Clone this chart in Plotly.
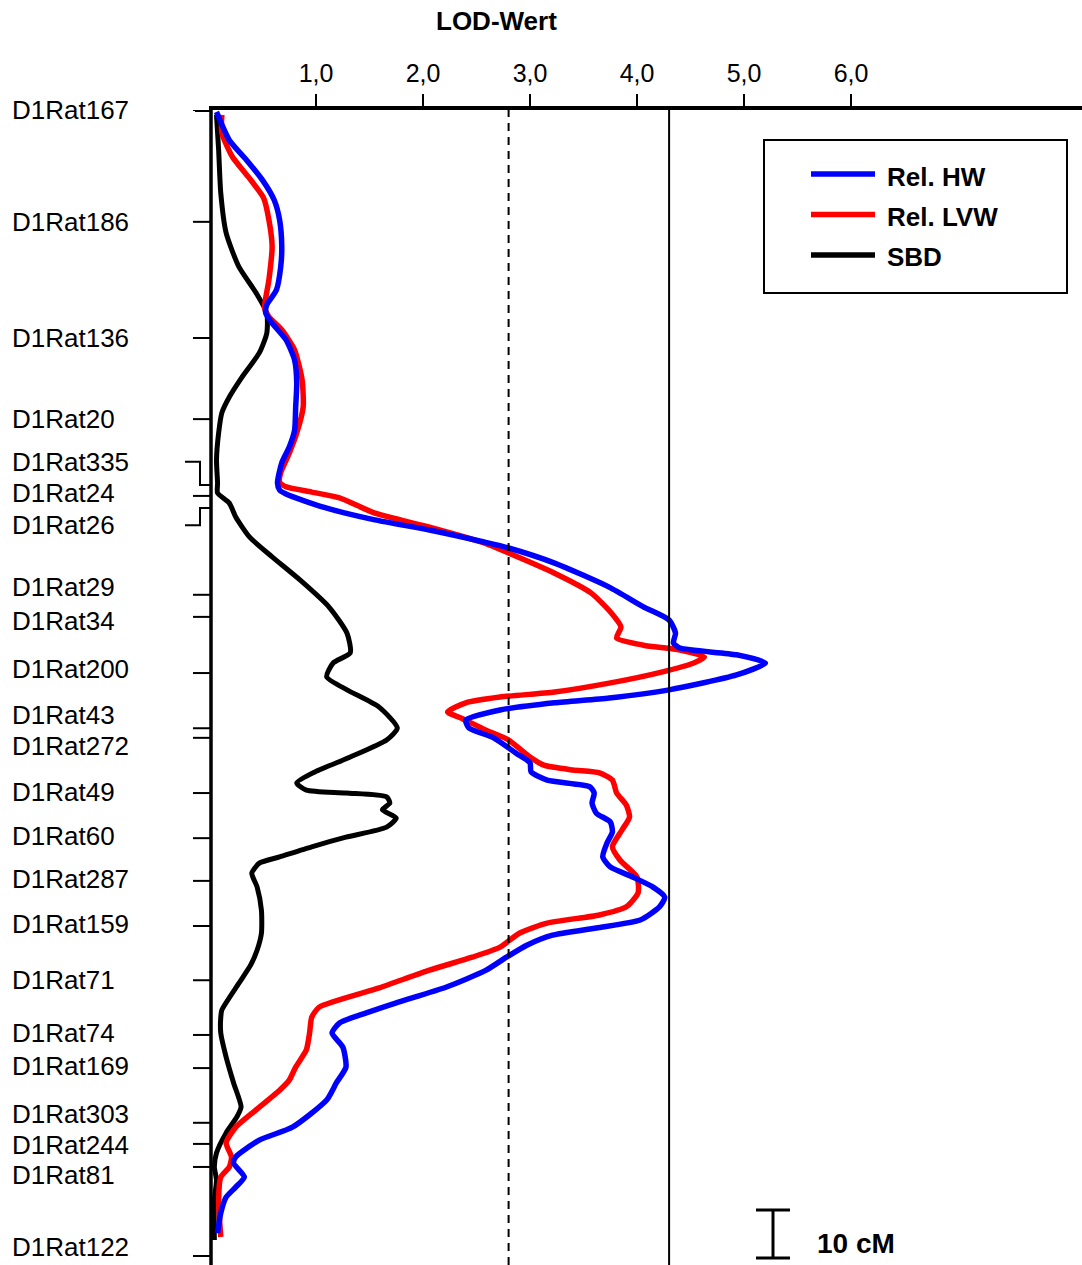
import plotly.graph_objects as go

# ---------------- data ----------------
markers = ["D1Rat167", "D1Rat186", "D1Rat136", "D1Rat20", "D1Rat335", "D1Rat24", "D1Rat26",
           "D1Rat29", "D1Rat34", "D1Rat200", "D1Rat43", "D1Rat272", "D1Rat49", "D1Rat60",
           "D1Rat287", "D1Rat159", "D1Rat71", "D1Rat74", "D1Rat169", "D1Rat303", "D1Rat244",
           "D1Rat81", "D1Rat122"]
marker_cm = [0.0, 23.3, 47.5, 64.4, 78.1, 80.4, 82.9, 101.0, 105.6, 117.3, 128.8, 130.8,
             142.3, 151.7, 160.6, 170.0, 181.3, 192.7, 199.6, 211.0, 215.4, 220.2, 238.75]
label_cm = [0.0, 23.3, 47.5, 64.4, 73.3, 79.8, 86.5, 99.4, 106.5, 116.5, 126.0, 132.5,
            142.1, 151.25, 160.2, 169.6, 181.25, 192.3, 199.2, 209.2, 215.6, 221.9, 236.9]
bent_markers = ["D1Rat335", "D1Rat26"]

lod_ticks = [1, 2, 3, 4, 5, 6]
lod_tick_text = ["1,0", "2,0", "3,0", "4,0", "5,0", "6,0"]
thresholds = [2.8, 4.3]          # dashed, solid
scale_bar_cm = 10

hw_lod = [0.07, 0.19, 0.35, 0.50, 0.61, 0.66, 0.68, 0.67, 0.63, 0.54, 0.53, 0.59, 0.72, 0.80,
          0.82, 0.81, 0.80, 0.75, 0.68, 0.64, 0.66, 0.72, 1.06, 1.55, 2.06, 2.57, 2.80, 3.23,
          3.74, 4.06, 4.30, 4.36, 4.34, 4.40, 4.93, 5.20, 4.93, 4.30, 3.74, 3.23, 2.72, 2.40,
          2.43, 2.66, 2.87, 3.00, 3.01, 3.16, 3.56, 3.60, 3.58, 3.62, 3.75, 3.77, 3.72, 3.68,
          3.75, 3.96, 4.15, 4.26, 4.21, 4.03, 3.62, 3.21, 2.97, 2.78, 2.59, 2.22, 1.75, 1.47,
          1.22, 1.15, 1.25, 1.28, 1.19, 1.10, 0.78, 0.47, 0.25, 0.23, 0.33, 0.25, 0.16, 0.11,
          0.08]
hw_cm = [0.4, 6.3, 10.4, 14.6, 18.8, 22.9, 28.5, 32.7, 37.5, 40.6, 42.3, 44.4, 47.9, 52.1,
         56.9, 61.9, 66.7, 70.2, 73.5, 77.7, 79.2, 80.0, 82.7, 85.4, 87.5, 90.0, 91.25, 94.4,
         99.4, 103.5, 106.25, 109.0, 111.0, 112.1, 113.5, 115.2, 117.7, 120.8, 122.5, 123.5, 125.0, 127.1,
         128.75, 130.8, 134.0, 136.0, 137.9, 139.6, 141.0, 142.3, 144.4, 146.5, 148.3, 150.4, 152.7, 155.6,
         157.7, 159.8, 161.9, 164.0, 166.0, 168.75, 170.4, 171.9, 174.0, 176.5, 179.2, 182.7, 186.0, 188.1,
         190.2, 192.3, 195.2, 199.4, 202.7, 206.25, 211.9, 214.6, 218.1, 219.4, 222.3, 224.4, 226.5, 229.8,
         234.0]

lvw_lod = [0.12, 0.12, 0.22, 0.37, 0.51, 0.56, 0.59, 0.56, 0.52, 0.56, 0.68, 0.80, 0.87, 0.88,
           0.82, 0.75, 0.67, 0.66, 0.72, 0.96, 1.22, 1.55, 2.06, 2.57, 2.80, 3.23, 3.57, 3.76,
           3.85, 3.81, 4.06, 4.40, 4.63, 4.53, 4.23, 3.74, 3.23, 2.72, 2.40, 2.23, 2.36, 2.59,
           2.80, 3.00, 3.13, 3.40, 3.65, 3.77, 3.81, 3.90, 3.93, 3.86, 3.77, 3.84, 4.00, 4.01,
           3.90, 3.65, 3.16, 2.90, 2.72, 2.46, 2.06, 1.59, 1.03, 0.96, 0.94, 0.91, 0.81, 0.75,
           0.66, 0.44, 0.25, 0.16, 0.21, 0.19, 0.11, 0.09, 0.11]
lvw_cm = [1.0, 4.8, 9.8, 14.0, 18.3, 22.9, 28.5, 35.4, 41.25, 43.1, 45.8, 50.0, 56.25, 61.9,
          67.3, 71.5, 75.6, 77.5, 78.5, 79.6, 80.8, 84.0, 86.9, 90.2, 92.3, 96.5, 100.6, 104.8,
          107.7, 110.0, 111.5, 112.5, 114.0, 115.2, 117.1, 119.4, 121.25, 122.3, 123.5, 125.4, 126.7, 129.2,
          131.25, 134.8, 136.5, 137.5, 138.1, 139.6, 142.3, 144.8, 147.3, 150.0, 153.5, 156.25, 159.8, 163.1,
          166.0, 167.7, 169.4, 171.5, 174.4, 176.5, 179.2, 182.9, 186.9, 189.0, 192.3, 195.8, 199.4, 202.1,
          204.2, 208.3, 211.9, 215.2, 218.1, 220.2, 222.3, 227.1, 234.8]

sbd_lod = [0.07, 0.09, 0.11, 0.16, 0.28, 0.44, 0.54, 0.54, 0.47, 0.31, 0.19, 0.12, 0.09, 0.07,
           0.08, 0.08, 0.19, 0.25, 0.38, 0.59, 0.85, 1.12, 1.29, 1.32, 1.16, 1.10, 1.29, 1.59,
           1.76, 1.66, 1.32, 0.99, 0.82, 0.91, 1.28, 1.66, 1.69, 1.62, 1.75, 1.66, 1.28, 0.96,
           0.66, 0.47, 0.40, 0.45, 0.49, 0.49, 0.45, 0.39, 0.28, 0.12, 0.11, 0.11, 0.16, 0.23,
           0.30, 0.26, 0.16, 0.07, 0.05, 0.07, 0.05, 0.05]
sbd_cm = [1.0, 8.3, 17.3, 25.6, 32.7, 38.1, 42.3, 46.5, 50.6, 55.6, 59.8, 63.1, 67.3, 72.9,
          77.7, 79.8, 81.9, 84.8, 89.0, 93.1, 97.9, 103.5, 109.0, 113.1, 115.2, 118.1, 120.8, 124.4,
          128.75, 131.25, 134.8, 137.9, 140.2, 141.7, 142.3, 143.1, 144.4, 145.8, 147.5, 149.4, 151.5, 153.5,
          155.6, 156.9, 159.0, 161.9, 166.7, 171.5, 175.0, 178.1, 181.9, 187.5, 189.0, 192.3, 197.3, 202.7,
          207.7, 209.8, 213.1, 217.3, 220.2, 222.9, 227.1, 235.4]

series = [
    ("SBD", sbd_lod, sbd_cm, "#000000", 5),
    ("Rel. LVW", lvw_lod, lvw_cm, "#ff0000", 5.5),
    ("Rel. HW", hw_lod, hw_cm, "#0000ff", 5.5),
]
legend_order = [("Rel. HW", "#0000ff"), ("Rel. LVW", "#ff0000"), ("SBD", "#000000")]

# ---------------- layout geometry ----------------
W, H = 1082, 1265
ML, MT = 209, 110
PW, PH = W - ML, H - MT
PX_PER_LOD = 107.0
PX_PER_CM = 4.8
FONT = "Liberation Sans, Arial, sans-serif"


def px_x(px):
    return (px - ML) / PW


def px_y(py):
    return 1 - (py - MT) / PH


fig = go.Figure()
for name, xs, ys, col, w in series:
    fig.add_trace(go.Scatter(x=xs, y=ys, mode="lines", name=name, showlegend=False,
                             line=dict(color=col, width=w, shape="spline", smoothing=0.6),
                             hoverinfo="skip"))

shapes = []
# vertical axis line
shapes.append(dict(type="line", xref="paper", yref="paper", x0=px_x(211), x1=px_x(211),
                   y0=0, y1=1, line=dict(color="black", width=3.5)))
# top axis extension to the first marker tick
shapes.append(dict(type="line", xref="paper", yref="y", x0=px_x(195), x1=px_x(211),
                   y0=marker_cm[0], y1=marker_cm[0], line=dict(color="black", width=4)))
# thresholds
shapes.append(dict(type="line", xref="x", yref="paper", x0=thresholds[0], x1=thresholds[0],
                   y0=0, y1=1, line=dict(color="black", width=2, dash="8px,6px")))
shapes.append(dict(type="line", xref="x", yref="paper", x0=thresholds[1], x1=thresholds[1],
                   y0=0, y1=1, line=dict(color="black", width=2)))
# marker ticks
for name, mcm, lcm in zip(markers, marker_cm, label_cm):
    if name in bent_markers:
        path = (f"M{px_x(185)},{lcm} L{px_x(200)},{lcm} L{px_x(200)},{mcm} L{px_x(211)},{mcm}")
        shapes.append(dict(type="path", xref="paper", yref="y", path=path,
                           line=dict(color="black", width=2)))
    else:
        shapes.append(dict(type="line", xref="paper", yref="y", x0=px_x(193), x1=px_x(211),
                           y0=mcm, y1=mcm, line=dict(color="black", width=2)))
# legend box
shapes.append(dict(type="rect", xref="paper", yref="paper", x0=px_x(764), x1=px_x(1067),
                   y0=px_y(293), y1=px_y(140), line=dict(color="black", width=2),
                   fillcolor="white", layer="above"))
annotations = []
for i, (name, col) in enumerate(legend_order):
    ly = 174 + i * 40.5
    shapes.append(dict(type="line", xref="paper", yref="paper", x0=px_x(811), x1=px_x(875),
                       y0=px_y(ly), y1=px_y(ly), line=dict(color=col, width=5.5), layer="above"))
    annotations.append(dict(text=f"<b>{name}</b>", xref="paper", yref="paper", x=px_x(885),
                            y=px_y(ly + 2.5), xanchor="left", yanchor="middle", showarrow=False,
                            font=dict(family=FONT, size=26, color="black")))
# scale bar (10 cM)
sb0 = (1210 - MT) / PX_PER_CM
shapes.append(dict(type="line", xref="paper", yref="y", x0=px_x(773), x1=px_x(773),
                   y0=sb0, y1=sb0 + scale_bar_cm, line=dict(color="black", width=3)))
for yy in (sb0, sb0 + scale_bar_cm):
    shapes.append(dict(type="line", xref="paper", yref="y", x0=px_x(756), x1=px_x(790),
                       y0=yy, y1=yy, line=dict(color="black", width=3)))
annotations.append(dict(text=f"<b>{scale_bar_cm} cM</b>", xref="paper", yref="y", x=px_x(815),
                        y=sb0 + scale_bar_cm * 0.7, xanchor="left", yanchor="middle",
                        showarrow=False, font=dict(family=FONT, size=28, color="black")))
# marker labels
for name, lcm in zip(markers, label_cm):
    annotations.append(dict(text=name, xref="paper", yref="y", x=px_x(10), y=lcm,
                            xanchor="left", yanchor="middle", showarrow=False,
                            font=dict(family=FONT, size=26, color="black")))
# title
annotations.append(dict(text="<b>LOD-Wert</b>", xref="paper", yref="paper", x=px_x(496),
                        y=px_y(21), xanchor="center", yanchor="middle", showarrow=False,
                        font=dict(family=FONT, size=26, color="black")))

fig.update_layout(
    width=W, height=H,
    margin=dict(l=ML, r=0, t=MT, b=0, pad=0),
    paper_bgcolor="white", plot_bgcolor="white",
    showlegend=False,
    shapes=shapes, annotations=annotations,
    xaxis=dict(side="top", range=[0, PW / PX_PER_LOD], tickvals=lod_ticks, ticktext=lod_tick_text,
               ticks="outside", ticklen=12, tickwidth=2, tickcolor="black",
               showline=True, linewidth=4, linecolor="black", showgrid=False, zeroline=False,
               tickfont=dict(family=FONT, size=25, color="black"), ticklabelstandoff=2,
               fixedrange=True),
    yaxis=dict(range=[PH / PX_PER_CM, 0], showticklabels=False, ticks="", showline=False,
               showgrid=False, zeroline=False, fixedrange=True),
)

fig.write_html("out.html")
